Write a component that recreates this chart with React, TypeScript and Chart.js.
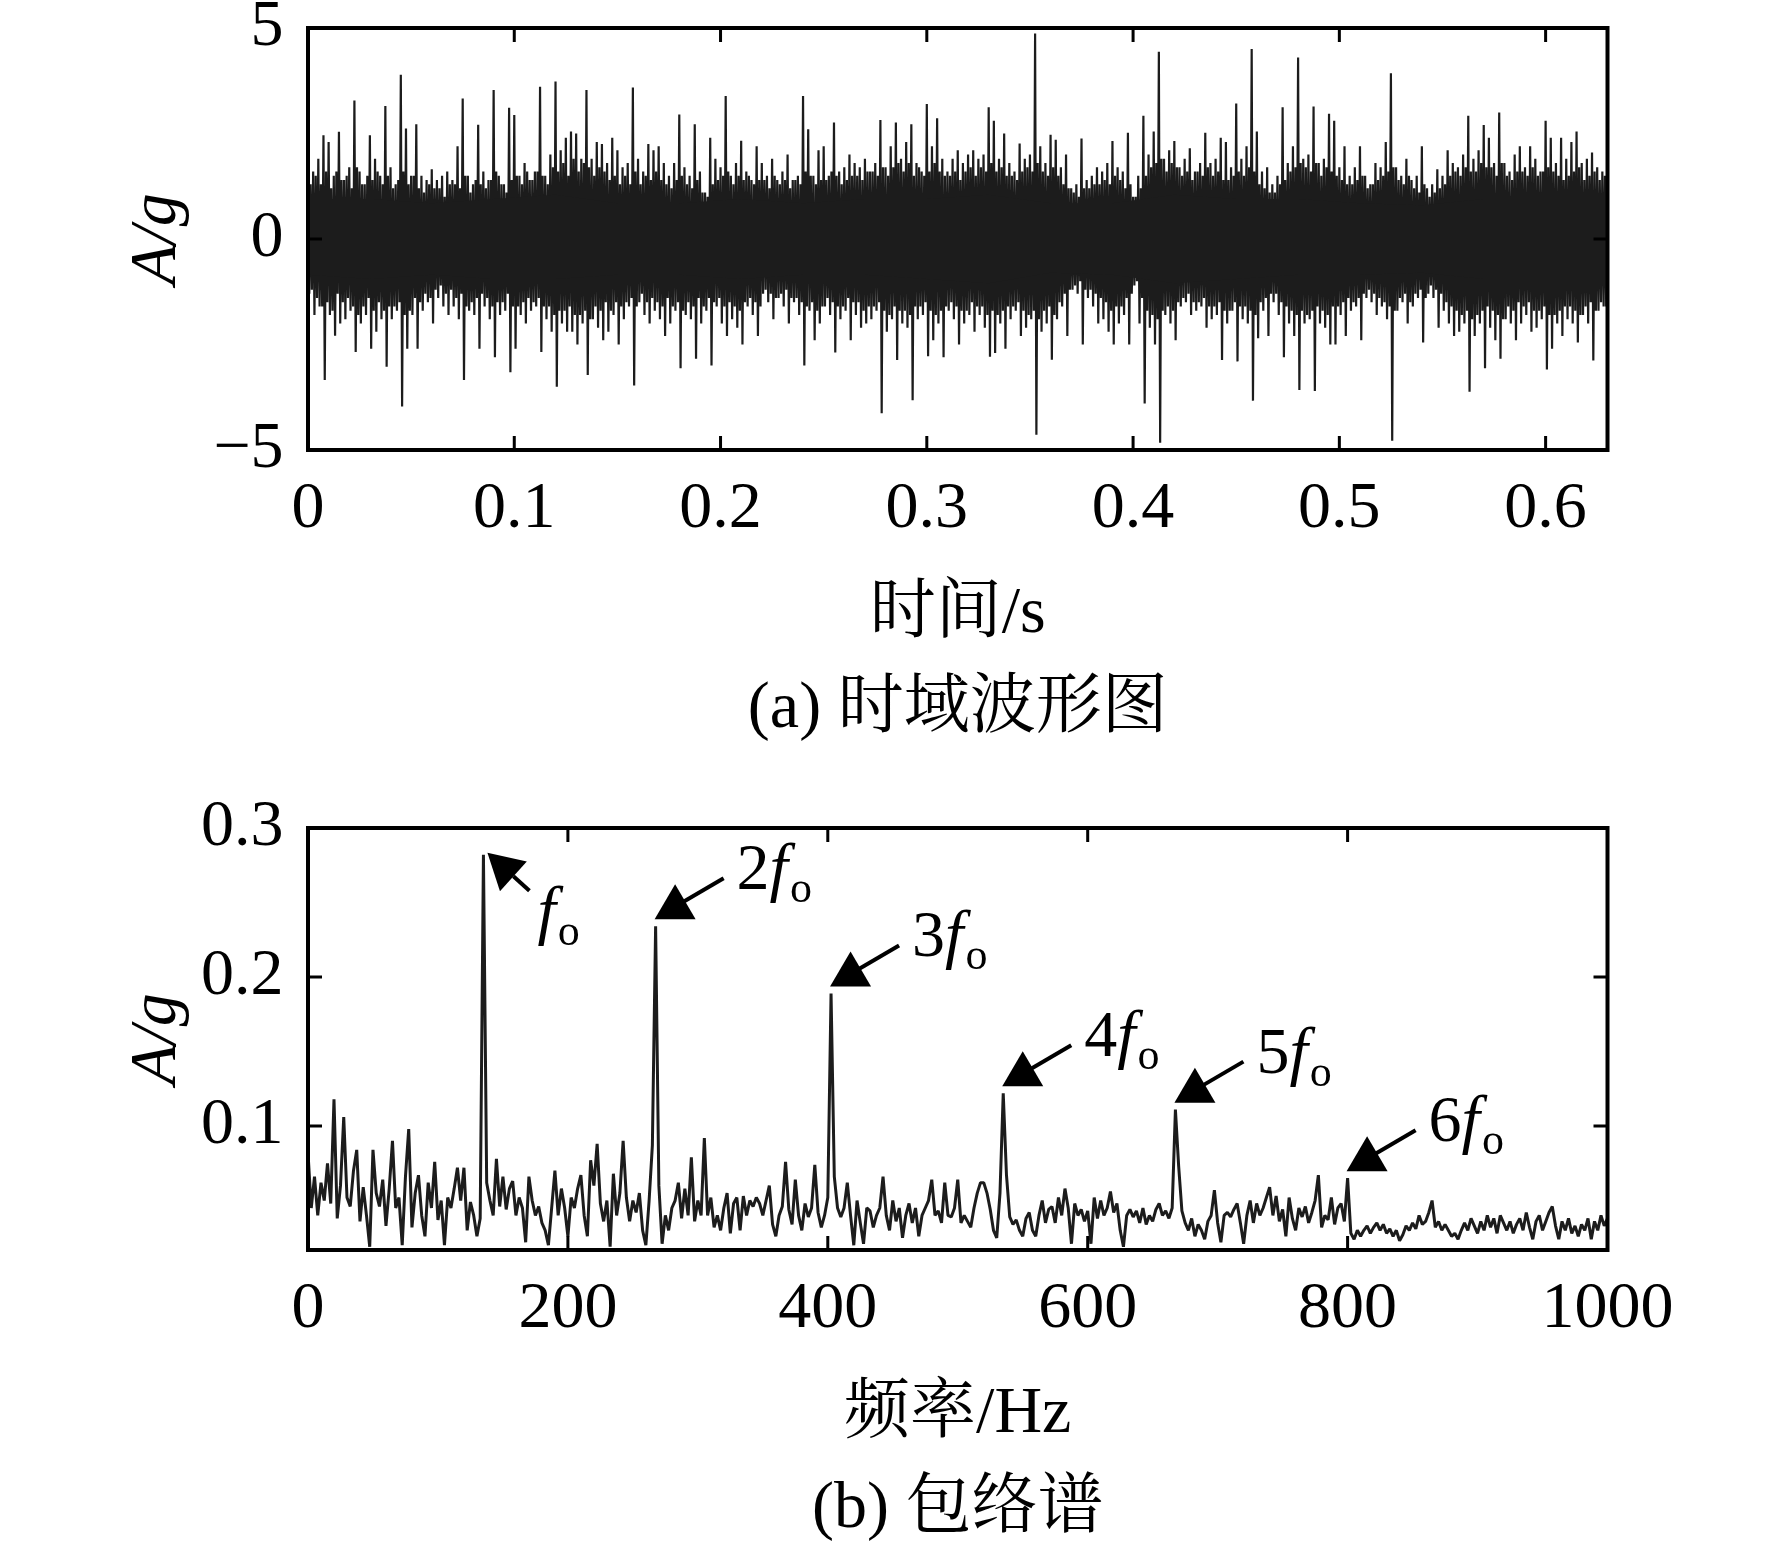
import React, { useEffect, useRef } from "react";
import { Chart, registerables } from "chart.js";

Chart.register(...registerables);

const FONT = "'Liberation Serif', 'Times New Roman', 'Noto Serif CJK SC', 'Noto Sans CJK SC', serif";
const INK = "#000000";
const LINE = "#1c1c1c";

// ---------- (a) time waveform: per-bin maxima / minima ----------
const binStep = 0.0025; // s, each bin holds two peak/trough pairs
const waveUpper = [
  1.5,
  1.6, 1.9, 2.46, 2.3, 1.5, 2.54, 1.4, 1.7, 3.28, 1.6, 1.3, 2.46, 1.9, 1.5, 3.15,
  1.7, 1.3, 3.89, 2.62, 1.5, 2.72, 1.5, 1.4, 1.65, 1.4, 1.5, 1.6, 1.4, 2.2, 3.33,
  1.5, 1.3, 2.71, 1.6, 1.4, 3.53, 1.5, 1.3, 3.11, 2.94, 1.5, 1.8, 1.4, 1.6, 3.61,
  1.5, 2.0, 3.73, 2.1, 2.4, 2.55, 2.5, 1.9, 3.53, 1.9, 2.3, 2.25, 1.8, 2.4, 2.1,
  1.7, 1.8, 3.59, 1.9, 1.6, 2.25, 2.1, 2.2, 1.8, 1.5, 1.8, 2.95, 1.7, 1.5, 2.72,
  1.6, 1.1, 2.4, 1.9, 1.7, 3.39, 1.5, 1.8, 2.33, 1.6, 1.4, 2.2, 1.8, 1.5, 1.9,
  1.4, 1.6, 2.0, 1.4, 1.5, 3.39, 2.6, 1.5, 2.1, 2.2, 1.5, 2.76, 1.6, 1.7, 2.0,
  1.8, 1.7, 1.9, 1.6, 1.8, 2.82, 1.7, 2.2, 2.76, 1.9, 2.3, 2.72, 1.8, 1.6, 3.2,
  2.2, 2.86, 1.9, 1.6, 1.9, 2.1, 1.8, 2.0, 2.1, 1.9, 2.0, 3.12, 2.8, 1.9, 2.5,
  1.8, 1.6, 2.26, 1.9, 2.0, 4.87, 2.2, 1.8, 2.47, 2.35, 1.7, 2.0, 1.2, 1.3, 2.38,
  1.4, 1.5, 1.7, 1.6, 1.8, 2.32, 1.7, 1.6, 2.52, 1.0, 1.5, 2.92, 2.0, 2.55, 4.44,
  1.9, 2.1, 2.32, 1.7, 1.9, 2.15, 1.6, 1.8, 2.52, 1.8, 1.9, 2.4, 2.3, 1.7, 3.21,
  1.9, 2.2, 4.5, 2.55, 1.6, 1.7, 1.3, 1.5, 3.12, 1.8, 2.2, 4.3, 1.9, 2.0, 3.14,
  1.8, 1.9, 2.97, 2.8, 1.7, 2.2, 1.5, 1.7, 2.2, 1.5, 1.3, 1.8, 1.7, 2.3, 3.93,
  1.7, 1.5, 1.9, 1.4, 1.5, 2.2, 1.2, 1.3, 1.65, 1.5, 2.1, 1.8, 1.7, 2.0, 2.92,
  1.9, 2.1, 2.7, 2.4, 1.8, 3.0, 1.8, 1.6, 2.0, 2.2, 1.7, 2.2, 1.9, 1.6, 2.8,
  2.4, 1.8, 2.4, 1.9, 2.3, 2.55, 1.8, 1.9, 2.05, 1.7, 1.6, 1.75,
];
const waveLower = [
  -1.3,
  -1.8, -1.6, -3.34, -1.8, -2.29, -2.0, -1.9, -1.7, -2.68, -2.0, -1.8, -2.6, -2.2, -1.9, -3.03,
  -1.9, -1.7, -3.97, -2.6, -1.8, -2.6, -1.7, -1.5, -2.0, -1.4, -1.6, -1.8, -1.6, -1.9, -3.34,
  -1.7, -1.8, -2.6, -1.6, -1.9, -2.8, -1.8, -1.7, -3.16, -2.6, -1.8, -2.0, -1.7, -1.6, -2.68,
  -1.9, -2.2, -3.5, -2.0, -2.2, -2.2, -2.5, -2.0, -3.22, -1.9, -2.1, -2.4, -2.2, -1.8, -2.5,
  -1.9, -1.6, -3.47, -1.5, -1.8, -2.0, -1.7, -1.9, -2.3, -2.0, -1.7, -3.06, -1.8, -1.9, -2.84,
  -2.0, -1.7, -3.0, -1.6, -2.0, -2.3, -1.9, -2.1, -2.5, -1.6, -1.8, -2.3, -1.3, -1.5, -1.9,
  -1.4, -1.6, -2.0, -1.5, -1.8, -3.0, -1.7, -2.4, -2.0, -1.6, -1.8, -2.69, -1.9, -1.7, -2.4,
  -1.8, -2.1, -2.0, -1.9, -1.7, -4.13, -2.2, -1.9, -2.87, -2.0, -2.1, -3.82, -1.9, -1.8, -2.78,
  -2.4, -2.0, -2.8, -1.7, -1.9, -2.5, -2.0, -1.8, -2.2, -1.8, -2.1, -2.79, -2.7, -2.0, -2.6,
  -1.9, -1.7, -2.3, -2.1, -1.9, -4.64, -2.2, -2.0, -2.86, -1.9, -1.6, -2.3, -1.2, -1.3, -2.5,
  -1.4, -1.6, -2.0, -1.9, -2.2, -2.5, -2.0, -1.8, -2.5, -1.1, -2.0, -3.9, -2.1, -2.5, -4.83,
  -1.8, -2.0, -2.4, -1.6, -1.5, -1.8, -1.7, -1.6, -2.1, -1.9, -1.8, -2.87, -2.0, -1.7, -2.9,
  -1.9, -2.0, -3.83, -2.35, -1.7, -2.3, -1.5, -1.8, -2.8, -2.0, -2.3, -3.58, -2.0, -1.9, -3.6,
  -2.0, -2.1, -2.5, -2.5, -1.8, -2.3, -1.7, -1.6, -2.4, -1.4, -1.5, -1.8, -1.6, -1.9, -4.78,
  -1.7, -1.5, -2.0, -1.6, -1.4, -2.45, -1.3, -1.4, -2.1, -1.7, -2.0, -2.3, -2.2, -2.0, -3.62,
  -2.3, -2.0, -3.06, -2.1, -2.4, -2.84, -1.9, -2.0, -2.4, -2.0, -1.8, -2.2, -2.1, -1.9, -3.09,
  -2.6, -2.0, -2.3, -1.9, -2.0, -2.45, -1.8, -2.0, -2.88, -1.7, -1.6, -2.0,
];
// second peak/trough pair inside each bin (half a bin later)
const waveUpperMid = [
  1.3,
  1.5, 1.3, 1.6, 1.2, 1.6, 1.4, 1.5, 1.2, 1.7, 1.3, 1.5, 1.4, 1.6, 1.3, 1.5,
  1.2, 1.4, 1.6, 1.3, 1.5, 1.2, 1.1, 1.3, 1.2, 1.2, 1.0, 1.3, 1.3, 1.2, 1.5,
  1.1, 1.4, 1.3, 1.2, 1.4, 1.6, 1.3, 1.1, 1.4, 1.5, 1.3, 1.6, 1.4, 1.6, 1.5,
  1.3, 1.7, 1.6, 1.8, 1.5, 1.9, 1.6, 1.8, 1.7, 1.5, 1.7, 1.6, 1.4, 1.5, 1.3,
  1.5, 1.3, 1.6, 1.3, 1.5, 1.4, 1.6, 1.4, 1.3, 1.2, 1.4, 1.5, 1.3, 1.2, 1.4,
  1.1, 1.0, 1.3, 1.4, 1.5, 1.6, 1.3, 1.5, 1.4, 1.5, 1.3, 1.4, 1.4, 1.2, 1.5,
  1.3, 1.4, 1.2, 1.4, 1.3, 1.6, 1.5, 1.3, 1.4, 1.4, 1.6, 1.5, 1.3, 1.4, 1.5,
  1.5, 1.4, 1.6, 1.6, 1.5, 1.7, 1.5, 1.7, 1.8, 1.6, 1.8, 1.5, 1.7, 1.5, 1.6,
  1.8, 1.6, 1.5, 1.5, 1.6, 1.4, 1.6, 1.7, 1.5, 1.7, 1.6, 1.8, 1.6, 1.7, 1.5,
  1.5, 1.4, 1.6, 1.7, 1.6, 1.8, 1.6, 1.5, 1.7, 1.5, 1.3, 1.2, 1.1, 1.0, 1.2,
  1.2, 1.3, 1.3, 1.4, 1.3, 1.5, 1.4, 1.2, 1.3, 1.0, 1.2, 1.5, 1.7, 1.8, 1.9,
  1.6, 1.8, 1.7, 1.5, 1.6, 1.4, 1.6, 1.5, 1.7, 1.5, 1.6, 1.4, 1.4, 1.5, 1.6,
  1.5, 1.7, 1.6, 1.3, 1.2, 1.1, 1.1, 1.3, 1.4, 1.6, 1.7, 1.8, 1.7, 1.6, 1.8,
  1.5, 1.7, 1.6, 1.5, 1.4, 1.3, 1.3, 1.4, 1.5, 1.2, 1.3, 1.4, 1.5, 1.6, 1.7,
  1.4, 1.3, 1.5, 1.2, 1.1, 1.3, 1.0, 1.1, 1.2, 1.3, 1.5, 1.6, 1.5, 1.7, 1.6,
  1.6, 1.8, 1.7, 1.7, 1.5, 1.8, 1.5, 1.4, 1.6, 1.6, 1.5, 1.7, 1.5, 1.6, 1.7,
  1.6, 1.5, 1.4, 1.5, 1.6, 1.7, 1.4, 1.5, 1.6, 1.4, 1.5, 1.3,
];
const waveLowerMid = [
  -1.2,
  -1.4, -1.6, -1.5, -1.7, -1.3, -1.5, -1.4, -1.6, -1.8, -1.6, -1.4, -1.7, -1.5, -1.7, -1.6,
  -1.6, -1.5, -1.8, -1.7, -1.4, -1.5, -1.3, -1.4, -1.2, -1.1, -1.3, -1.2, -1.4, -1.3, -1.6,
  -1.5, -1.4, -1.3, -1.4, -1.6, -1.5, -1.5, -1.3, -1.6, -1.6, -1.5, -1.4, -1.5, -1.4, -1.6,
  -1.6, -1.8, -1.7, -1.7, -1.6, -1.8, -1.8, -1.7, -1.9, -1.6, -1.7, -1.5, -1.7, -1.5, -1.6,
  -1.5, -1.4, -1.6, -1.3, -1.5, -1.4, -1.5, -1.6, -1.4, -1.6, -1.5, -1.7, -1.5, -1.6, -1.4,
  -1.6, -1.4, -1.5, -1.4, -1.6, -1.5, -1.6, -1.7, -1.5, -1.4, -1.5, -1.6, -1.2, -1.3, -1.4,
  -1.3, -1.2, -1.4, -1.4, -1.5, -1.6, -1.5, -1.7, -1.6, -1.4, -1.5, -1.6, -1.6, -1.4, -1.5,
  -1.5, -1.7, -1.6, -1.6, -1.5, -1.7, -1.8, -1.6, -1.7, -1.7, -1.8, -1.6, -1.6, -1.5, -1.7,
  -1.8, -1.7, -1.6, -1.5, -1.6, -1.7, -1.7, -1.5, -1.6, -1.6, -1.8, -1.7, -1.8, -1.7, -1.6,
  -1.6, -1.5, -1.7, -1.8, -1.7, -1.9, -1.7, -1.6, -1.8, -1.5, -1.3, -1.2, -1.1, -1.0, -1.2,
  -1.2, -1.3, -1.4, -1.5, -1.7, -1.6, -1.6, -1.4, -1.3, -1.0, -1.4, -1.7, -1.8, -1.9, -1.7,
  -1.6, -1.7, -1.5, -1.4, -1.3, -1.5, -1.5, -1.4, -1.6, -1.6, -1.5, -1.7, -1.7, -1.5, -1.6,
  -1.6, -1.7, -1.8, -1.5, -1.4, -1.3, -1.3, -1.5, -1.6, -1.7, -1.8, -1.7, -1.8, -1.7, -1.6,
  -1.7, -1.8, -1.6, -1.6, -1.5, -1.4, -1.5, -1.4, -1.3, -1.2, -1.3, -1.4, -1.5, -1.6, -1.7,
  -1.4, -1.3, -1.5, -1.3, -1.2, -1.4, -1.1, -1.2, -1.3, -1.5, -1.6, -1.7, -1.8, -1.7, -1.9,
  -1.8, -1.7, -1.6, -1.7, -1.8, -1.9, -1.6, -1.7, -1.5, -1.6, -1.5, -1.7, -1.7, -1.6, -1.8,
  -1.8, -1.7, -1.6, -1.6, -1.7, -1.8, -1.6, -1.5, -1.7, -1.5, -1.6, -1.4,
];
// dense solid core of the waveform
const coreStep = 0.03; // s
const coreUpper = [0.95, 0.95, 0.85, 0.95, 1.05, 0.85, 0.85, 0.95, 0.85, 0.95, 0.95, 1.05, 0.85, 0.85, 1.05, 0.95, 0.95, 0.85, 0.8, 0.95, 0.95, 0.95];
const coreLower = [-0.85, -0.95, -0.85, -0.95, -0.95, -0.85, -0.85, -0.95, -0.85, -0.85, -0.95, -1.05, -0.8, -0.85, -1.05, -0.95, -0.85, -0.85, -0.8, -0.95, -0.95, -0.95];
const timeMax = 0.63;

// ---------- (b) envelope spectrum ----------
const freqStep = 2.5; // Hz
const spectrum = [
  0.082, 0.045, 0.066, 0.040, 0.062, 0.050, 0.075, 0.048, 0.118, 0.038,
  0.060, 0.106, 0.052, 0.046, 0.070, 0.084, 0.036, 0.059, 0.040, 0.019,
  0.084, 0.055, 0.046, 0.064, 0.033, 0.058, 0.090, 0.045, 0.052, 0.020,
  0.066, 0.098, 0.032, 0.055, 0.067, 0.040, 0.026, 0.062, 0.045, 0.076,
  0.037, 0.050, 0.020, 0.052, 0.045, 0.058, 0.072, 0.050, 0.072, 0.030,
  0.049, 0.040, 0.026, 0.038, 0.282, 0.062, 0.050, 0.040, 0.078, 0.046,
  0.066, 0.044, 0.058, 0.063, 0.040, 0.052, 0.045, 0.022, 0.066, 0.050,
  0.040, 0.046, 0.035, 0.030, 0.020, 0.045, 0.070, 0.040, 0.058, 0.045,
  0.026, 0.052, 0.045, 0.058, 0.067, 0.040, 0.026, 0.077, 0.060, 0.088,
  0.048, 0.036, 0.050, 0.019, 0.068, 0.040, 0.055, 0.090, 0.052, 0.036,
  0.050, 0.042, 0.055, 0.030, 0.020, 0.050, 0.087, 0.234, 0.060, 0.021,
  0.040, 0.030, 0.045, 0.050, 0.062, 0.038, 0.058, 0.040, 0.079, 0.036,
  0.050, 0.040, 0.092, 0.040, 0.052, 0.032, 0.040, 0.030, 0.045, 0.055,
  0.028, 0.048, 0.052, 0.030, 0.053, 0.040, 0.050, 0.046, 0.052, 0.048,
  0.040, 0.050, 0.060, 0.034, 0.026, 0.040, 0.046, 0.076, 0.044, 0.034,
  0.064, 0.040, 0.030, 0.048, 0.039, 0.045, 0.074, 0.042, 0.032, 0.040,
  0.052, 0.189, 0.066, 0.045, 0.039, 0.045, 0.062, 0.040, 0.020, 0.050,
  0.035, 0.021, 0.045, 0.043, 0.032, 0.040, 0.045, 0.066, 0.040, 0.030,
  0.050, 0.036, 0.045, 0.025, 0.040, 0.048, 0.035, 0.045, 0.026, 0.040,
  0.045, 0.050, 0.064, 0.040, 0.043, 0.035, 0.062, 0.040, 0.039, 0.045,
  0.064, 0.035, 0.040, 0.036, 0.032, 0.045, 0.055, 0.062, 0.062, 0.055,
  0.044, 0.030, 0.025, 0.055, 0.122, 0.067, 0.039, 0.034, 0.037, 0.030,
  0.026, 0.038, 0.042, 0.030, 0.026, 0.040, 0.050, 0.035, 0.044, 0.046,
  0.035, 0.052, 0.040, 0.058, 0.045, 0.021, 0.048, 0.040, 0.044, 0.036,
  0.043, 0.021, 0.052, 0.038, 0.050, 0.040, 0.045, 0.056, 0.042, 0.048,
  0.030, 0.019, 0.040, 0.044, 0.039, 0.043, 0.035, 0.045, 0.034, 0.040,
  0.036, 0.044, 0.048, 0.040, 0.043, 0.038, 0.045, 0.111, 0.073, 0.043,
  0.035, 0.030, 0.038, 0.026, 0.034, 0.030, 0.024, 0.036, 0.040, 0.057,
  0.035, 0.022, 0.040, 0.042, 0.039, 0.044, 0.048, 0.035, 0.021, 0.040,
  0.050, 0.035, 0.048, 0.040, 0.045, 0.052, 0.059, 0.040, 0.053, 0.036,
  0.044, 0.026, 0.052, 0.038, 0.030, 0.045, 0.039, 0.046, 0.035, 0.042,
  0.050, 0.067, 0.032, 0.040, 0.037, 0.052, 0.034, 0.045, 0.048, 0.036,
  0.065, 0.028, 0.024, 0.030, 0.026, 0.030, 0.033, 0.028, 0.032, 0.035,
  0.030, 0.034, 0.028, 0.031, 0.026, 0.030, 0.023, 0.027, 0.033, 0.030,
  0.035, 0.031, 0.040, 0.034, 0.036, 0.042, 0.050, 0.032, 0.036, 0.030,
  0.034, 0.030, 0.026, 0.028, 0.024, 0.030, 0.035, 0.030, 0.038, 0.033,
  0.028, 0.036, 0.030, 0.040, 0.032, 0.038, 0.028, 0.040, 0.035, 0.030,
  0.036, 0.028, 0.034, 0.038, 0.030, 0.042, 0.032, 0.024, 0.036, 0.040,
  0.030, 0.036, 0.042, 0.046, 0.033, 0.024, 0.036, 0.030, 0.038, 0.028,
  0.033, 0.026, 0.034, 0.030, 0.038, 0.024, 0.036, 0.030, 0.040, 0.033, 0.038,
];
const harmonicFreqs = [135, 267.5, 402.5, 535, 667.5, 800];
const harmonicLabels = ["", "2", "3", "4", "5", "6"];
const specMin = 0.0168;
const specMax = 0.3;

// ---------- shared layout ----------
const W = 1772;
const AREA_LEFT = 308;
const PAD_RIGHT = W - 1607.5;
const AREA_TOP = 28;
const XSCALE_H = 220.4;

const font = (size: number, style = "normal") => ({ family: FONT, size, style: style as any, weight: "normal" as any, lineHeight: 1.2 });

const frameTicks = {
  id: "frameTicks",
  afterDatasetsDraw(chart: any) {
    const { ctx, chartArea } = chart;
    const { left, right, top, bottom } = chartArea;
    const xs = chart.scales.x;
    const ys = chart.scales.y;
    const L = 14;
    ctx.save();
    ctx.strokeStyle = INK;
    ctx.lineWidth = 3;
    ctx.beginPath();
    xs.ticks.forEach((t: any) => {
      if (t.value <= xs.min + 1e-9 || t.value >= xs.max - 1e-9) return;
      const p = xs.getPixelForValue(t.value);
      ctx.moveTo(p, bottom);
      ctx.lineTo(p, bottom - L);
      ctx.moveTo(p, top);
      ctx.lineTo(p, top + L);
    });
    ys.ticks.forEach((t: any) => {
      if (t.value <= ys.min + 1e-9 || t.value >= ys.max - 1e-9) return;
      const p = ys.getPixelForValue(t.value);
      ctx.moveTo(left, p);
      ctx.lineTo(left + L, p);
      ctx.moveTo(right, p);
      ctx.lineTo(right - L, p);
    });
    ctx.stroke();
    ctx.lineWidth = 4;
    ctx.strokeRect(left, top, right - left, bottom - top);
    ctx.restore();
  },
};

const harmonicMarks = {
  id: "harmonicMarks",
  afterDatasetsDraw(chart: any) {
    const { ctx } = chart;
    const xs = chart.scales.x;
    const ys = chart.scales.y;
    harmonicFreqs.forEach((f, n) => {
      const v = spectrum[Math.round(f / freqStep)];
      const px = xs.getPixelForValue(f);
      const py = ys.getPixelForValue(v);
      ctx.save();
      ctx.fillStyle = INK;
      ctx.strokeStyle = INK;
      ctx.lineWidth = 4;
      let tx: number;
      let ty: number;
      if (n === 0) {
        const tip = [px + 4, py - 2];
        const tail = [px + 46, py + 36];
        const dx = tail[0] - tip[0];
        const dy = tail[1] - tip[1];
        const len = Math.hypot(dx, dy);
        const ux = dx / len;
        const uy = dy / len;
        const bx = tip[0] + ux * 35;
        const by = tip[1] + uy * 35;
        ctx.beginPath();
        ctx.moveTo(bx, by);
        ctx.lineTo(tail[0], tail[1]);
        ctx.stroke();
        ctx.beginPath();
        ctx.moveTo(tip[0], tip[1]);
        ctx.lineTo(bx - uy * 20, by + ux * 20);
        ctx.lineTo(bx + uy * 20, by - ux * 20);
        ctx.closePath();
        ctx.fill();
        tx = px + 54;
        ty = py + 77;
      } else {
        ctx.beginPath();
        ctx.moveTo(px - 1, py - 7);
        ctx.lineTo(px + 40, py - 7);
        ctx.lineTo(px + 19.5, py - 42);
        ctx.closePath();
        ctx.fill();
        ctx.beginPath();
        ctx.moveTo(px + 27, py - 24);
        ctx.lineTo(px + 68, py - 48);
        ctx.stroke();
        tx = px + 81;
        ty = py - 37;
      }
      ctx.textAlign = "left";
      ctx.textBaseline = "alphabetic";
      const label = harmonicLabels[n];
      if (label) {
        ctx.font = `66px ${FONT}`;
        ctx.fillText(label, tx, ty);
        tx += ctx.measureText(label).width;
      }
      ctx.font = `italic 66px ${FONT}`;
      ctx.fillText("f", tx, ty);
      tx += ctx.measureText("f").width + 2;
      ctx.font = `44px ${FONT}`;
      ctx.fillText("o", tx, ty + 13);
      ctx.restore();
    });
  },
};

const fmtMinus = (v: number) => (v < 0 ? "\u2212" + String(Math.abs(v)) : String(v));

function buildWave(height: number) {
  const wave: { x: number; y: number }[] = [];
  const q = binStep / 4;
  waveUpper.forEach((u, i) => {
    const t = i * binStep;
    wave.push({ x: t, y: u });
    wave.push({ x: t + q, y: waveLower[i] });
    wave.push({ x: t + 2 * q, y: waveUpperMid[i] });
    wave.push({ x: t + 3 * q, y: waveLowerMid[i] });
  });
  const cu = coreUpper.map((y, j) => ({ x: Math.min(j * coreStep, timeMax), y }));
  const cl = coreLower.map((y, j) => ({ x: Math.min(j * coreStep, timeMax), y }));
  return {
    type: "line",
    data: {
      datasets: [
        { data: cu, borderWidth: 0, pointRadius: 0, fill: false, borderColor: LINE },
        { data: cl, borderWidth: 0, pointRadius: 0, fill: "-1", backgroundColor: LINE, borderColor: LINE },
        { data: wave, borderWidth: 2.2, pointRadius: 0, borderColor: LINE, borderJoinStyle: "bevel", fill: false },
      ],
    },
    options: {
      animation: false,
      responsive: false,
      devicePixelRatio: 1,
      events: [],
      layout: { padding: { top: AREA_TOP, right: PAD_RIGHT, left: 0, bottom: 0 } },
      plugins: {
        legend: { display: false },
        tooltip: { enabled: false },
        title: {
          display: true,
          position: "bottom",
          fullSize: false,
          text: "(a) 时域波形图",
          color: INK,
          font: font(66),
          padding: { top: 0, bottom: height - 710 - 39.6 },
        },
      },
      scales: {
        x: {
          type: "linear",
          min: 0,
          max: timeMax,
          grid: { display: false, drawTicks: false },
          border: { display: false },
          ticks: {
            stepSize: 0.1,
            includeBounds: false,
            autoSkip: false,
            maxRotation: 0,
            padding: 20,
            color: INK,
            font: font(66),
            callback: (v: any) => (Math.abs(v) < 1e-9 ? "0" : Number(v).toFixed(1)),
          },
          title: { display: true, text: "时间/s", color: INK, font: font(66), padding: { top: 0, bottom: 16 } },
          afterFit: (s: any) => {
            s.height = XSCALE_H;
            s.paddingLeft = 0;
            s.paddingRight = 0;
          },
        },
        y: {
          type: "linear",
          min: -5,
          max: 5,
          grid: { display: false, drawTicks: false },
          border: { display: false },
          ticks: { stepSize: 5, padding: 24.4, color: INK, font: font(66), callback: (v: any) => fmtMinus(Number(v)) },
          title: { display: true, text: "A/g", color: INK, font: font(66, "italic"), padding: { top: 118, bottom: 0 } },
          afterFit: (s: any) => {
            s.width = AREA_LEFT;
            s.paddingTop = 0;
            s.paddingBottom = 0;
          },
        },
      },
    },
    plugins: [frameTicks],
  };
}

function buildSpectrum(height: number) {
  const pts = spectrum.map((y, i) => ({ x: i * freqStep, y }));
  return {
    type: "line",
    data: {
      datasets: [{ data: pts, borderWidth: 3, pointRadius: 0, borderColor: LINE, borderJoinStyle: "bevel", fill: false }],
    },
    options: {
      animation: false,
      responsive: false,
      devicePixelRatio: 1,
      events: [],
      layout: { padding: { top: AREA_TOP, right: PAD_RIGHT, left: 0, bottom: 0 } },
      plugins: {
        legend: { display: false },
        tooltip: { enabled: false },
        title: {
          display: true,
          position: "bottom",
          fullSize: false,
          text: "(b) 包络谱",
          color: INK,
          font: font(66),
          padding: { top: 0, bottom: height - 710 - 39.6 },
        },
      },
      scales: {
        x: {
          type: "linear",
          min: 0,
          max: 1000,
          grid: { display: false, drawTicks: false },
          border: { display: false },
          ticks: {
            stepSize: 200,
            autoSkip: false,
            maxRotation: 0,
            padding: 20,
            color: INK,
            font: font(66),
            callback: (v: any) => String(Math.round(Number(v))),
          },
          title: { display: true, text: "频率/Hz", color: INK, font: font(66), padding: { top: 0, bottom: 16 } },
          afterFit: (s: any) => {
            s.height = XSCALE_H;
            s.paddingLeft = 0;
            s.paddingRight = 0;
          },
        },
        y: {
          type: "linear",
          min: specMin,
          max: specMax,
          grid: { display: false, drawTicks: false },
          border: { display: false },
          ticks: {
            stepSize: 0.1,
            includeBounds: false,
            padding: 24.4,
            color: INK,
            font: font(66),
            callback: (v: any) => Number(v).toFixed(1),
          },
          title: { display: true, text: "A/g", color: INK, font: font(66, "italic"), padding: { top: 118, bottom: 0 } },
          afterFit: (s: any) => {
            s.width = AREA_LEFT;
            s.paddingTop = 0;
            s.paddingBottom = 0;
          },
        },
      },
    },
    plugins: [frameTicks, harmonicMarks],
  };
}

function ChartCanvas({ build, top, height }: { build: (h: number) => any; top: number; height: number }) {
  const ref = useRef<HTMLCanvasElement>(null);
  useEffect(() => {
    if (!ref.current) return;
    const chart = new Chart(ref.current, build(height) as any);
    return () => chart.destroy();
  }, []);
  return (
    <canvas
      ref={ref}
      width={W}
      height={height}
      style={{ position: "absolute", left: 0, top, width: W, height, display: "block" }}
    />
  );
}

export default function App() {
  return (
    <div style={{ position: "absolute", left: 0, top: 0, width: W, height: 1551, background: "#fff", overflow: "hidden" }}>
      <ChartCanvas build={buildWave} top={0} height={800} />
      <ChartCanvas build={buildSpectrum} top={800} height={751} />
    </div>
  );
}
